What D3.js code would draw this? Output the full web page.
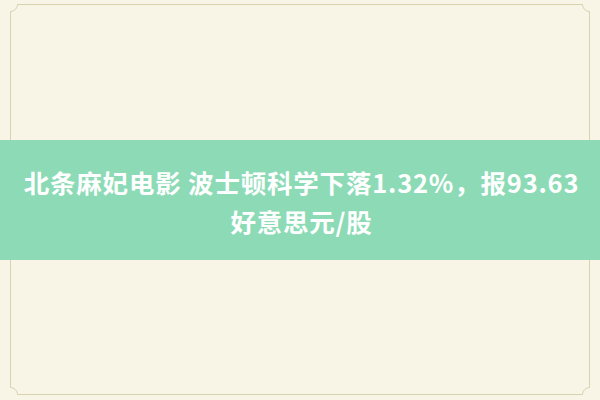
<!DOCTYPE html>
<meta charset="utf-8">
<script src="https://d3js.org/d3.v7.min.js"></script>
<style>
  body { margin: 0; }
</style>
<div id="my_dataviz"></div>
<script>
    // title text, one entry per line
    var titleLines = ["北条麻妃电影 波士顿科学下落1.32%，报93.63", "好意思元/股"];
    var lineIndex = [0, 1];

    var width = 600, height = 400;

    var svg = d3.select("#my_dataviz")
        .append("svg")
        .attr("width", width)
        .attr("height", height);

    // paper background
    svg.append("rect")
        .attr("width", width)
        .attr("height", height)
        .style("fill", "#f8f5e7");

    // thin frame with notched corners
    var x0 = 10.5, y0 = 4.5, x1 = 589.5, y1 = 394.5, r = 7;
    var frame = d3.path();
    frame.moveTo(x0 + r, y0);
    frame.lineTo(x1 - r, y0);
    frame.arc(x1, y0, r, Math.PI, Math.PI / 2, true);
    frame.lineTo(x1, y1 - r);
    frame.arc(x1, y1, r, -Math.PI / 2, Math.PI, true);
    frame.lineTo(x0 + r, y1);
    frame.arc(x0, y1, r, 0, -Math.PI / 2, true);
    frame.lineTo(x0, y0 + r);
    frame.arc(x0, y0, r, Math.PI / 2, 0, true);
    svg.append("path")
        .attr("d", frame.toString())
        .style("fill", "none")
        .style("stroke", "#d9d2ae")
        .style("stroke-width", 1);

    // green band
    svg.append("rect")
        .attr("x", 0)
        .attr("y", 140)
        .attr("width", width)
        .attr("height", 120)
        .style("fill", "#8cdbb6");

    // line positions
    var y = d3.scalePoint()
        .domain(lineIndex)
        .range([181, 220]);

    svg.selectAll(".title")
        .data(titleLines)
        .enter()
        .append("text")
        .attr("class", "title")
        .attr("x", width / 2 + 1.5)
        .attr("y", function (d, i) { return y(i); })
        .attr("text-anchor", "middle")
        .attr("dominant-baseline", "central")
        .style("font-family", "'Noto Sans CJK SC', 'Noto Sans', sans-serif")
        .style("font-weight", "bold")
        .style("font-size", "25.5px")
        .style("letter-spacing", "0.8px")
        .style("fill", "#ffffff")
        .text(function (d) { return d; });
</script>
